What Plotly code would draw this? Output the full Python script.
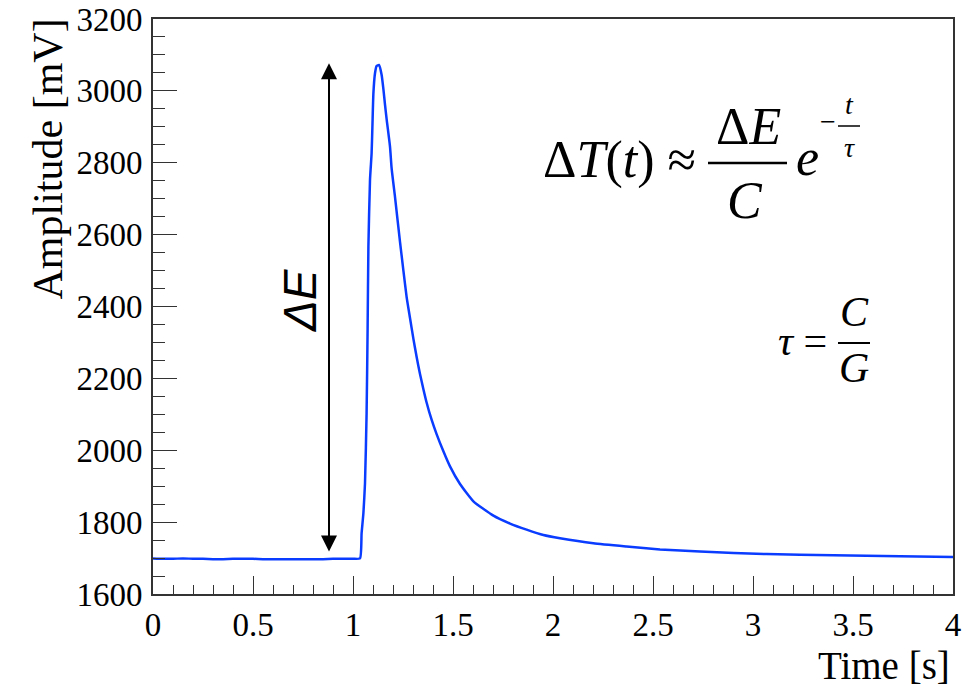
import plotly.graph_objects as go

# Bolometer pulse: amplitude vs time
time_s = [0.00, 0.05, 0.10, 0.15, 0.20, 0.25, 0.30, 0.35, 0.40, 0.45, 0.50,
          0.55, 0.60, 0.65, 0.70, 0.75, 0.80, 0.85, 0.90, 0.95, 1.00, 1.035,
          1.043, 1.052, 1.060, 1.068, 1.073, 1.077, 1.085, 1.093, 1.097, 1.102,
          1.110, 1.118, 1.130, 1.143, 1.152, 1.160, 1.168, 1.185, 1.193, 1.210,
          1.218, 1.235, 1.252, 1.268, 1.285, 1.302, 1.318, 1.335, 1.352, 1.368,
          1.393, 1.418, 1.452, 1.485, 1.535, 1.602, 1.702, 1.785, 1.868, 1.952,
          2.035, 2.202, 2.368, 2.535, 2.735, 3.068, 3.402, 3.735, 4.000]
amplitude_mV = [1699, 1698, 1698, 1699, 1698, 1698, 1697, 1697, 1698, 1698, 1698,
                1697, 1697, 1697, 1697, 1697, 1697, 1697, 1698, 1698, 1698, 1699,
                1769, 1825, 1908, 2103, 2335, 2566, 2752, 2826, 2900, 2993,
                3049, 3069, 3072, 3045, 3005, 2962, 2922, 2845, 2785, 2705,
                2665, 2580, 2500, 2427, 2368, 2310, 2260, 2212, 2170, 2133,
                2085, 2045, 1997, 1955, 1906, 1858, 1818, 1796, 1779, 1764,
                1755, 1741, 1732, 1724, 1718, 1711, 1708, 1705, 1703]

x_tickvals = [0, 0.5, 1, 1.5, 2, 2.5, 3, 3.5, 4]
x_ticktext = ["0", "0.5", "1", "1.5", "2", "2.5", "3", "3.5", "4"]
y_tickvals = [1600, 1800, 2000, 2200, 2400, 2600, 2800, 3000, 3200]
y_ticktext = ["1600", "1800", "2000", "2200", "2400", "2600", "2800", "3000", "3200"]

# Energy step marked by the double arrow (baseline -> peak)
arrow_t = 0.88
arrow_low_mV = 1714
arrow_high_mV = 3077

W, H = 966, 689
L, R, T, B = 153, 13, 19, 95
PW, PH = W - L - R, H - T - B

def px(x):
    return (x - L) / PW

def py(y):
    return (H - B - y) / PH

SERIF = "Liberation Serif, Times New Roman, serif"
SANS = "Liberation Sans, Arial, sans-serif"
AXC = "#333333"

fig = go.Figure()
fig.add_trace(go.Scatter(
    x=time_s, y=amplitude_mV, mode="lines",
    line=dict(color="#0a3cff", width=2.5, shape="spline", smoothing=0.5),
    showlegend=False, hoverinfo="skip",
))

axis_common = dict(
    showgrid=False, zeroline=False, showline=True, linecolor=AXC, linewidth=1.6,
    mirror=True, ticks="inside", tickcolor=AXC, tickwidth=1.4, automargin=False,
    tickfont=dict(family=SERIF, size=33, color="black"),
)
fig.update_xaxes(range=[0, 4], tickmode="array", tickvals=x_tickvals, ticktext=x_ticktext,
                 ticklen=18, ticklabelstandoff=1,
                 minor=dict(dtick=0.1, ticklen=9, ticks="inside", tickcolor=AXC, tickwidth=1.2),
                 **axis_common)
fig.update_yaxes(range=[1600, 3200], tickmode="array", tickvals=y_tickvals, ticktext=y_ticktext,
                 ticklen=24, ticklabelstandoff=2,
                 minor=dict(dtick=50, ticklen=12, ticks="inside", tickcolor=AXC, tickwidth=1.2),
                 **axis_common)

ann = []
# Axis titles
ann.append(dict(text="Time [s]", xref="paper", yref="paper", x=px(952), y=py(689),
                xanchor="right", yanchor="bottom", showarrow=False,
                font=dict(family=SERIF, size=39, color="black")))
ann.append(dict(text="Amplitude [mV]", xref="paper", yref="paper", x=px(47), y=py(17),
                xanchor="center", yanchor="top", textangle=-90, showarrow=False,
                font=dict(family=SERIF, size=42, color="black")))

# Double-headed arrow for the energy deposit
ann.append(dict(text="", x=arrow_t, y=arrow_high_mV, ax=arrow_t, ay=arrow_low_mV,
                xref="x", yref="y", axref="x", ayref="y", showarrow=True,
                arrowhead=2, arrowside="end+start", arrowsize=1.6, arrowwidth=2,
                arrowcolor="black", standoff=0, startstandoff=0))
ann.append(dict(text="<i>ΔE</i>", xref="paper", yref="paper", x=px(300), y=py(300),
                xanchor="center", yanchor="middle", textangle=-90, showarrow=False,
                font=dict(family=SANS, size=46, color="black")))

# Formula: ΔT(t) ≈ ΔE/C e^{-t/τ}
big = dict(family=SERIF, size=52, color="black")
small = dict(family=SERIF, size=28, color="black")
mid = dict(family=SERIF, size=42, color="black")

def txt(s, x, y, font, xanchor="center"):
    ann.append(dict(text=s, xref="paper", yref="paper", x=px(x), y=py(y),
                    xanchor=xanchor, yanchor="middle", showarrow=False, font=font))

txt("Δ<i>T</i>(<i>t</i>) ≈", 698, 160, big, xanchor="right")
txt("Δ<i>E</i>", 748, 126, big)
txt("<i>C</i>", 745, 200, big)
txt("<i>e</i>", 807, 158, big)
txt("−", 828, 121, small)
txt("<i>t</i>", 849, 104, small)
txt("<i>τ</i>", 849, 148, small)

# τ = C/G
txt("<i>τ</i> =", 829, 341, mid, xanchor="right")
txt("<i>C</i>", 854, 312, mid)
txt("<i>G</i>", 854, 368, mid)

shapes = [
    dict(type="line", xref="paper", yref="paper", x0=px(708), x1=px(787), y0=py(163), y1=py(163),
         line=dict(color="black", width=2.5)),
    dict(type="line", xref="paper", yref="paper", x0=px(838), x1=px(860), y0=py(126), y1=py(126),
         line=dict(color="black", width=1.5)),
    dict(type="line", xref="paper", yref="paper", x0=px(838), x1=px(870), y0=py(343), y1=py(343),
         line=dict(color="black", width=2)),
]

fig.update_layout(
    width=W, height=H, margin=dict(l=L, r=R, t=T, b=B, pad=0),
    paper_bgcolor="white", plot_bgcolor="white",
    annotations=ann, shapes=shapes, showlegend=False,
)

fig.write_html("out.html")
